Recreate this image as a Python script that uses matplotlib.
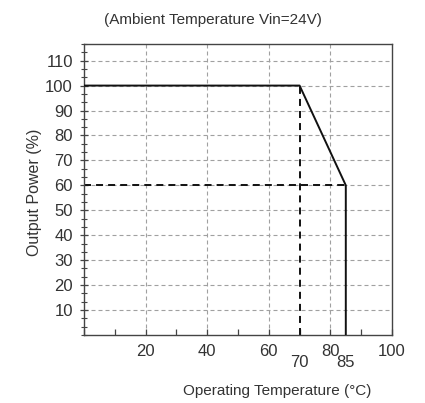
import matplotlib
matplotlib.use("Agg")
import matplotlib.pyplot as plt
from matplotlib.ticker import MultipleLocator
import numpy as np

plt.rcParams['font.family'] = ['Liberation Sans', 'DejaVu Sans']

# Data
temp = [0, 70, 85, 85]
power = [100, 100, 60, 0]
y_ticks = [10, 20, 30, 40, 50, 60, 70, 80, 90, 100, 110]
x_labels_high = [20, 40, 60, 80, 100]
x_labels_low = [70, 85]
title = "(Ambient Temperature Vin=24V)"
xlabel = "Operating Temperature (°C)"
ylabel = "Output Power (%)"

tc = '#333333'
fig = plt.figure(figsize=(4.25, 4.03), dpi=100)
ax = fig.add_axes([84/425, 1-335/403, (392-84)/425, (335-44)/403])
ax.set_xlim(0, 100)
ax.set_ylim(0, 116.67)

# grid
for x in [20, 40, 60, 80]:
    ax.axvline(x, color='#a0a0a0', lw=0.8, ls=(0, (3.6, 2.7)), zorder=1)
for y in y_ticks:
    ax.axhline(y, color='#a0a0a0', lw=0.8, ls=(0, (3.6, 2.7)), zorder=1)

# reference dashed lines
ax.plot([0, 85], [60, 60], color='#111111', lw=1.4, ls=(0, (3.6, 2.6)), zorder=2)
ax.plot([70, 70], [0, 100], color='#111111', lw=1.4, ls=(0, (3.6, 2.6)), zorder=2)

# curve
ax.plot(temp, power, color='#111111', lw=1.4, zorder=3)

for s in ax.spines.values():
    s.set_color('#444444')
    s.set_linewidth(1.0)

ax.set_yticks(y_ticks)
ax.yaxis.set_minor_locator(MultipleLocator(10/3))
ax.tick_params(axis='y', which='major', direction='inout', length=6, width=0.9, colors='#444444',
               labelsize=12, labelcolor=tc, pad=5)
ax.tick_params(axis='y', which='minor', direction='inout', length=4, width=0.8, colors='#444444')

ax.set_xticks(np.arange(0, 101, 10))
ax.set_xticklabels([])
ax.tick_params(axis='x', which='major', direction='in', length=4, width=0.9, colors='#444444')

xt = ax.get_xaxis_transform()
for v in x_labels_high:
    ax.text(v, -0.058, str(v), transform=xt, ha='center', va='center', fontsize=12, color=tc)
for v in x_labels_low:
    ax.text(v, -0.093, str(v), transform=xt, ha='center', va='center', fontsize=12, color=tc)

fig.text(213/425, 1-20/403, title, ha='center', va='center', fontsize=11, color=tc)
fig.text(277/425, 1-391/403, xlabel, ha='center', va='center', fontsize=11, color=tc)
fig.text(35/425, 1-192/403, ylabel, ha='center', va='center', rotation=90, fontsize=11.5, color=tc)

fig.savefig('out.png', dpi=100)
